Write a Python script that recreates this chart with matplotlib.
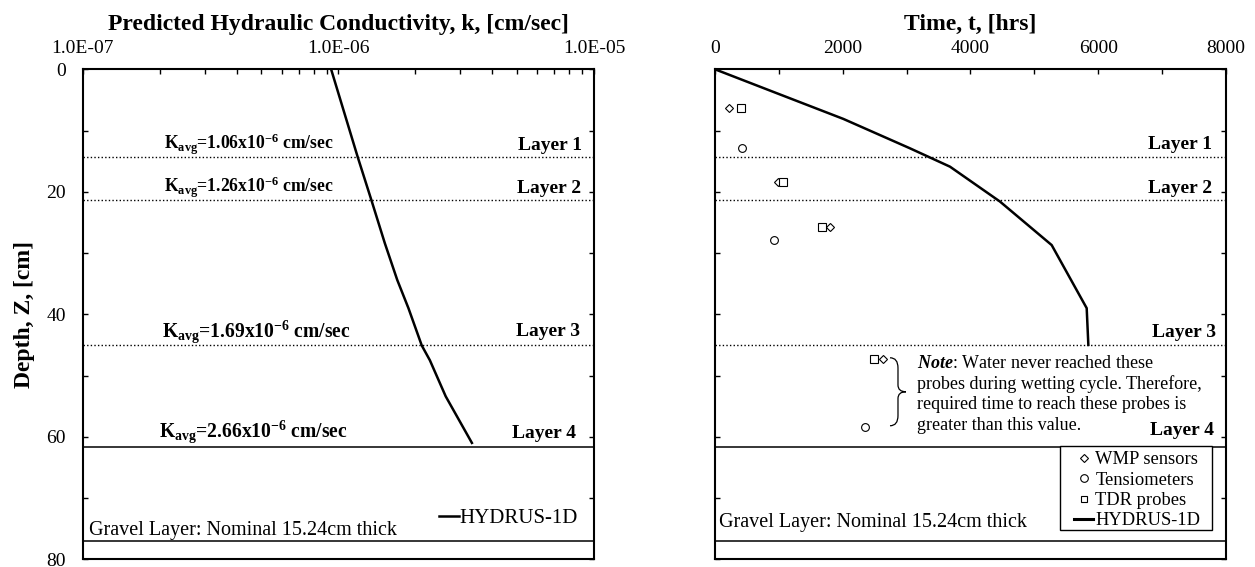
import numpy as np
import matplotlib
matplotlib.use("Agg")
import matplotlib.pyplot as plt
from matplotlib import transforms
from matplotlib.path import Path
from matplotlib.patches import PathPatch, Rectangle
from matplotlib.lines import Line2D

plt.rcParams['font.family'] = ['Liberation Serif', 'DejaVu Serif']
plt.rcParams['mathtext.fontset'] = 'custom'
plt.rcParams['mathtext.rm'] = 'Liberation Serif'
plt.rcParams['mathtext.it'] = 'Liberation Serif:italic'
plt.rcParams['mathtext.bf'] = 'Liberation Serif:bold'
plt.rcParams['mathtext.bfit'] = 'Liberation Serif:bold:italic'

# predicted hydraulic conductivity profile (HYDRUS-1D)
depth_k = [0, 14.3, 21.5, 28.4, 34.4, 39.0, 45.1, 47.5, 53.4, 61.0]
k_pred = [9.37e-7, 1.19e-6, 1.35e-6, 1.52e-6, 1.70e-6, 1.88e-6, 2.12e-6, 2.28e-6, 2.63e-6, 3.33e-6]

# wetting front arrival time (HYDRUS-1D)
z_hyd = [0, 3.9, 8.1, 12.9, 15.9, 21.6, 28.7, 39.0, 45.0]
t_hyd = [0, 966, 2009, 3052, 3679, 4462, 5271, 5819, 5845]

# measured arrival times
t_wmp = [224, 991, 1800, 2626]
z_wmp = [6.3, 18.4, 25.8, 47.3]
t_tens = [418, 924, 2348]
z_tens = [12.8, 27.95, 58.4]
t_tdr = [407, 1059, 1670, 2489]
z_tdr = [6.3, 18.4, 25.8, 47.3]

# layers
layer_names = ['Layer 1', 'Layer 2', 'Layer 3', 'Layer 4']
layer_bottom = [14.4, 21.4, 45.0, 61.7]
gravel_bottom = 76.94
k_avg = ['1.06', '1.26', '1.69', '2.66']

note_lines = [r'$\mathbfit{Note}$: Water never reached these',
              'probes during wetting cycle. Therefore,',
              'required time to reach these probes is',
              'greater than this value.']

fig = plt.figure(figsize=(12.55, 5.67), dpi=100)
ax1 = fig.add_axes([0.0659, 0.0136, 0.4074, 0.8642])
ax2 = fig.add_axes([0.5697, 0.0136, 0.4072, 0.8642])

for ax in [ax1, ax2]:
    ax.set_ylim(80, 0)
    ax.xaxis.tick_top()
    ax.xaxis.set_label_position('top')
    ax.tick_params(which='both', direction='in', top=True, bottom=False, left=True, right=True,
                   length=3.6, width=1, labelsize=14)
    ax.tick_params(axis='x', which='both', pad=9)
    for s in ax.spines.values():
        s.set_linewidth(1.5)
    for d in layer_bottom[:3]:
        ax.axhline(d, color='black', lw=1, ls=(0, (1, 1.6)))
    ax.axhline(layer_bottom[3], color='black', lw=1.1)
    ax.axhline(gravel_bottom, color='black', lw=1.1)

# ---- left plot
ax1.set_xscale('log')
ax1.set_xlim(1e-7, 1e-5)
ax1.set_xticks([1e-7, 1e-6, 1e-5])
ax1.set_xticklabels(['%.1E' % v for v in [1e-7, 1e-6, 1e-5]])
ax1.xaxis.set_minor_formatter(matplotlib.ticker.NullFormatter())
ax1.set_yticks(np.arange(0, 81, 20))
ax1.set_yticks(np.arange(10, 80, 20), minor=True)
ax1.tick_params(axis='y', which='both', pad=12)
ax1.set_xlabel('Predicted Hydraulic Conductivity, k, [cm/sec]', fontsize=17, fontweight='bold', labelpad=7)
ax1.set_ylabel('Depth, Z, [cm]', fontsize=17, fontweight='bold', labelpad=8)

ax1.plot(k_pred, depth_k, color='black', lw=1.8, label='HYDRUS-1D')

tr1 = transforms.blended_transform_factory(ax1.transAxes, ax1.transData)
kx = [0.325, 0.326, 0.339, 0.333]
ky = [12.2, 19.2, 42.9, 59.2]
ks = [12.7, 12.7, 14.1, 14.1]
for v, x, y, s in zip(k_avg, kx, ky, ks):
    ax1.text(x, y, r'K$_{\mathbf{avg}}$=' + v + r'x10$^{\mathbf{-6}}$ cm/sec', transform=tr1,
             ha='center', va='center', fontsize=s, fontweight='bold')
lx1 = [0.977, 0.975, 0.973, 0.965]
ly1 = [12.5, 19.4, 42.8, 59.5]
for name, x, y in zip(layer_names, lx1, ly1):
    ax1.text(x, y, name, transform=tr1, ha='right', va='center', fontsize=14, fontweight='bold')
ax1.text(0.012, 75.3, 'Gravel Layer: Nominal 15.24cm thick', transform=tr1,
         ha='left', va='center', fontsize=14.5)
ax1.legend(loc='center left', bbox_to_anchor=(0.696, 0.084), frameon=False, fontsize=15,
           handlelength=1.0, handletextpad=0.0, borderpad=0, borderaxespad=0)

# ---- right plot
ax2.set_xlim(0, 8000)
ax2.set_xticks(np.arange(0, 8001, 2000))
ax2.set_xticks(np.arange(1000, 8000, 2000), minor=True)
ax2.set_yticks(np.arange(0, 81, 10))
ax2.set_yticklabels([])
ax2.set_xlabel('Time, t, [hrs]', fontsize=17, fontweight='bold', labelpad=7)

ax2.plot(t_hyd, z_hyd, color='black', lw=1.8, zorder=3)
ax2.plot(t_wmp, z_wmp, ls='none', marker='D', ms=4.2, mfc='white', mec='black', mew=0.8, zorder=4)
ax2.plot(t_tens, z_tens, ls='none', marker='o', ms=5.6, mfc='white', mec='black', mew=0.8, zorder=4)
ax2.plot(t_tdr, z_tdr, ls='none', marker='s', ms=5.2, mfc='white', mec='black', mew=0.8, zorder=5)

tr2 = transforms.blended_transform_factory(ax2.transAxes, ax2.transData)
lx2 = [0.973, 0.973, 0.980, 0.976]
ly2 = [12.2, 19.4, 43.0, 59.0]
for name, x, y in zip(layer_names, lx2, ly2):
    ax2.text(x, y, name, transform=tr2, ha='right', va='center', fontsize=14, fontweight='bold')
ax2.text(0.008, 74.0, 'Gravel Layer: Nominal 15.24cm thick', transform=tr2,
         ha='left', va='center', fontsize=14.5)

note_y = [48.0, 51.4, 54.8, 58.2]
for line, y in zip(note_lines, note_y):
    ax2.text(3161, y, line, ha='left', va='center', fontsize=13)

# curly brace next to the unreached probes
bx0, bw, by0, by1 = 2740, 250, 47.1, 58.2
bxm, bxt, bym, bh = bx0 + bw / 2, bx0 + bw, (by0 + by1) / 2, by1 - by0
verts = [(bx0, by0), (bxm, by0), (bxm, by0 + 0.15 * bh), (bxm, bym - 0.1 * bh),
         (bxm, bym), (bxt, bym), (bxm, bym), (bxm, bym + 0.1 * bh),
         (bxm, by1 - 0.15 * bh), (bxm, by1), (bx0, by1)]
codes = [Path.MOVETO, Path.CURVE3, Path.CURVE3, Path.LINETO, Path.CURVE3, Path.CURVE3,
         Path.CURVE3, Path.CURVE3, Path.LINETO, Path.CURVE3, Path.CURVE3]
ax2.add_patch(PathPatch(Path(verts, codes), fill=False, lw=0.9, color='black'))

# legend box drawn separately (reference box is wider than the entries)
ax2.add_patch(Rectangle((0.675, 0.0598), 0.2984, 0.1714, transform=ax2.transAxes,
                        facecolor='white', edgecolor='black', lw=1.0, zorder=6))
handles = [Line2D([], [], ls='none', marker='D', ms=4.0, mfc='white', mec='black', mew=0.8),
           Line2D([], [], ls='none', marker='o', ms=5.5, mfc='white', mec='black', mew=0.8),
           Line2D([], [], ls='none', marker='s', ms=5.0, mfc='white', mec='black', mew=0.8),
           Line2D([], [], color='black', lw=2.2)]
leg = ax2.legend(handles, ['WMP sensors', 'Tensiometers', 'TDR probes', 'HYDRUS-1D'],
                 loc='upper left', bbox_to_anchor=(0.7025, 0.2203), fontsize=13.3, frameon=False,
                 handlelength=1.05, handletextpad=0.1, labelspacing=0.18, borderpad=0,
                 borderaxespad=0)
leg.set_zorder(7)

fig.savefig('out.png', dpi=100)
